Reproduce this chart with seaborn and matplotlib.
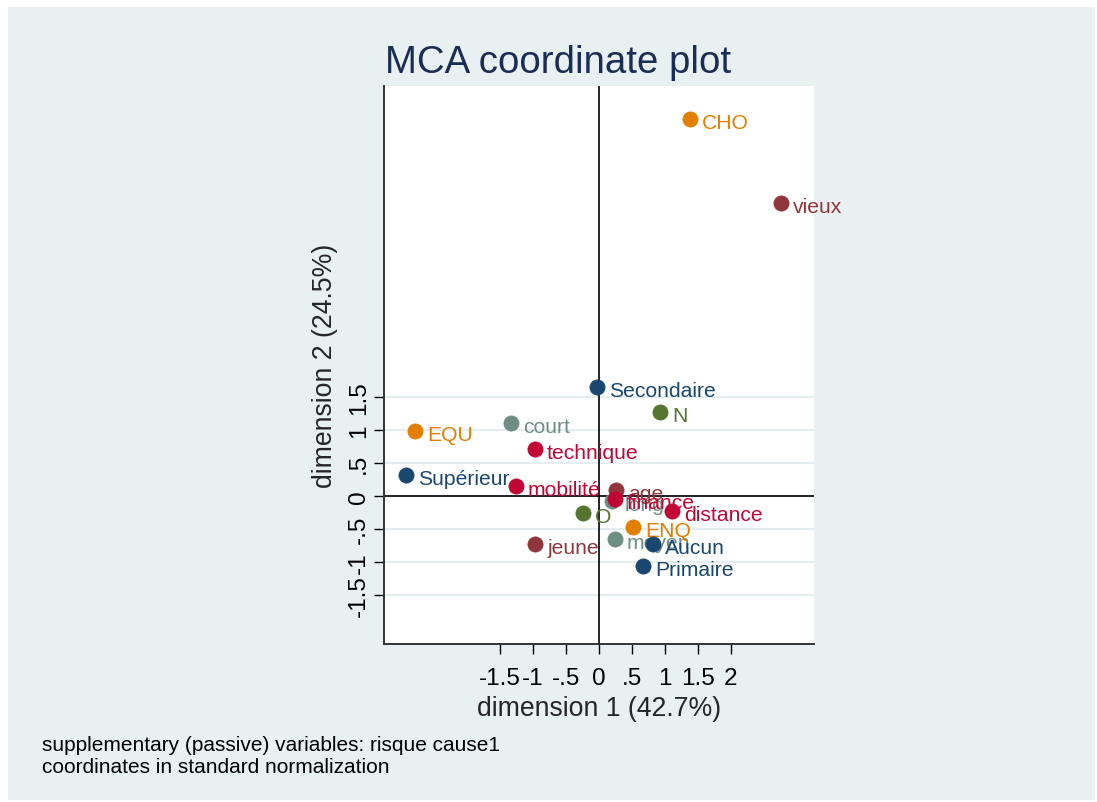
import matplotlib
matplotlib.use("Agg")
import matplotlib.pyplot as plt
import pandas as pd
import seaborn as sns
from matplotlib.patches import Rectangle

# Category coordinates on the first two MCA dimensions, one block per variable
duree_labels = ["court", "long", "moyen"]
duree_x = [-1.33, 0.20, 0.24]
duree_y = [1.11, -0.08, -0.65]

age_labels = ["vieux", "age", "jeune"]
age_x = [2.76, 0.26, -0.97]
age_y = [4.44, 0.09, -0.73]

no_labels = ["N", "O"]
no_x = [0.92, -0.24]
no_y = [1.27, -0.26]

statut_labels = ["CHO", "EQU", "ENQ"]
statut_x = [1.38, -2.79, 0.52]
statut_y = [5.71, 0.98, -0.47]

diplome_labels = ["Secondaire", "Supérieur", "Aucun", "Primaire"]
diplome_x = [-0.03, -2.92, 0.82, 0.67]
diplome_y = [1.65, 0.32, -0.73, -1.06]

motif_labels = ["technique", "mobilité", "finance", "distance"]
motif_x = [-0.97, -1.26, 0.24, 1.10]
motif_y = [0.71, 0.15, -0.05, -0.23]

x_ticks = [-1.5, -1, -0.5, 0, 0.5, 1, 1.5, 2]
y_ticks = [-1.5, -1, -0.5, 0, 0.5, 1, 1.5]

groups = [
    ("duree", duree_labels, duree_x, duree_y, "#6e8e84"),
    ("age", age_labels, age_x, age_y, "#90353b"),
    ("no", no_labels, no_x, no_y, "#55752f"),
    ("statut", statut_labels, statut_x, statut_y, "#e37e00"),
    ("diplome", diplome_labels, diplome_x, diplome_y, "#1a476f"),
    ("motif", motif_labels, motif_x, motif_y, "#c10534"),
]

frames = []
for name, labs, xs, ys, _ in groups:
    frames.append(pd.DataFrame({"variable": name, "label": labs, "dim1": xs, "dim2": ys}))
df = pd.concat(frames, ignore_index=True)
palette = {name: col for name, _, _, _, col in groups}

sns.set_style("white")
plt.rcParams["font.family"] = ["Liberation Sans", "DejaVu Sans"]

W, H = 1097, 803
fig = plt.figure(figsize=(W / 100, H / 100), dpi=100, facecolor="white")
bg = "#e8f0f2"
fig.patches.append(Rectangle((8 / W, 2 / H), (W - 10) / W, (H - 10) / H,
                             transform=fig.transFigure, facecolor=bg,
                             edgecolor="none", zorder=-10))

ax = fig.add_axes([384 / W, (H - 645) / H, 430 / W, 558 / H])
ax.set_facecolor("white")
ax.set_xlim(-3.258, 3.258)
ax.set_ylim(-2.242, 6.212)

for yt in y_ticks:
    ax.axhline(yt, color="#e4edf0", lw=1.4, zorder=0.5)
ax.axhline(0, color="black", lw=1.2, zorder=1)
ax.axvline(0, color="black", lw=1.2, zorder=1)

for z, (name, labs, xs, ys, col) in enumerate(groups):
    sub = df[df["variable"] == name]
    sns.scatterplot(data=sub, x="dim1", y="dim2", color=palette[name], s=120,
                    edgecolor=palette[name], linewidth=0.5, ax=ax,
                    legend=False, zorder=3 + 2 * z)
    for _, row in sub.iterrows():
        ax.annotate(row["label"], (row["dim1"], row["dim2"]),
                    xytext=(8.7, -2.5), textcoords="offset points",
                    ha="left", va="center", fontsize=15.2, color=palette[name],
                    zorder=4 + 2 * z)


def stata_fmt(v):
    s = f"{v:g}"
    if s.startswith("0."):
        s = s[1:]
    elif s.startswith("-0."):
        s = "-" + s[2:]
    return s


ax.set_xticks(x_ticks)
ax.set_xticklabels([stata_fmt(v) for v in x_ticks], fontsize=17.5)
ax.set_yticks(y_ticks)
ax.set_yticklabels([stata_fmt(v) for v in y_ticks], fontsize=17.5,
                   rotation=90, va="center")
ax.tick_params(axis="x", direction="out", length=7.5, width=1.0, pad=9,
               colors="black")
ax.tick_params(axis="y", direction="out", length=7.5, width=1.0, pad=2.5,
               colors="black")
ax.tick_params(bottom=True, left=True)

for side in ["top", "right"]:
    ax.spines[side].set_visible(False)
for side in ["left", "bottom"]:
    ax.spines[side].set_visible(True)
    ax.spines[side].set_color("#333333")
    ax.spines[side].set_linewidth(1.4)

ax.set_xlabel("dimension 1 (42.7%)", fontsize=19.2, va="center")
ax.xaxis.set_label_coords(0.5, -0.1147)
ax.set_ylabel("dimension 2 (24.5%)", fontsize=19.2, va="center")
ax.yaxis.set_label_coords(-0.1370, 0.5)

fig.text(558.5 / W, (H - 73) / H, "MCA coordinate plot", ha="center",
         va="baseline", fontsize=27.6, color="#1a2e55")
fig.text(42 / W, (H - 751) / H,
         "supplementary (passive) variables: risque cause1",
         ha="left", va="baseline", fontsize=15.0, color="black")
fig.text(42 / W, (H - 773) / H, "coordinates in standard normalization",
         ha="left", va="baseline", fontsize=15.0, color="black")

fig.savefig("out.png", dpi=100, facecolor="white")
